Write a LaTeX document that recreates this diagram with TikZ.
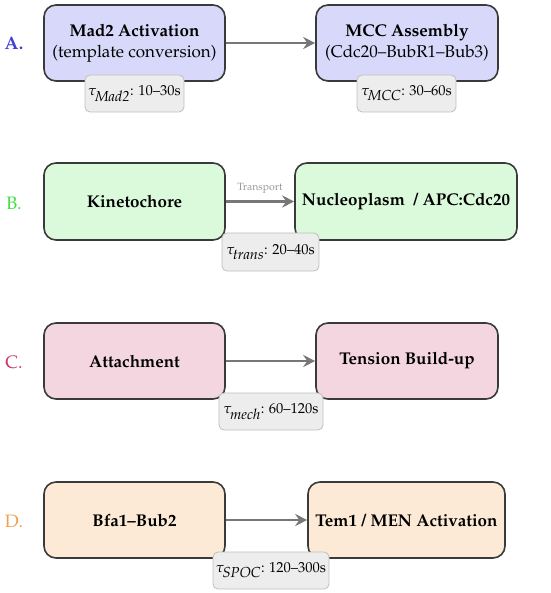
\documentclass[tikz,border=0pt]{standalone}
\usepackage[T1]{fontenc}
\usepackage{mathpazo}
\usetikzlibrary{arrows.meta}
\definecolor{fillA}{HTML}{D8D8FA}
\definecolor{fillB}{HTML}{DBFADB}
\definecolor{fillC}{HTML}{F4D6E0}
\definecolor{fillD}{HTML}{FDEAD6}
\definecolor{labA}{HTML}{4040D8}
\definecolor{labB}{HTML}{40E040}
\definecolor{labC}{HTML}{C83C6C}
\definecolor{labD}{HTML}{F0A050}
\definecolor{edgecol}{HTML}{3A3A3A}
\definecolor{arrcol}{HTML}{777777}
\tikzset{
  mainbox/.style={draw=edgecol, line width=1.6pt, rounded corners=12pt, align=center,
    minimum height=76pt, font=\fontsize{17}{21}\selectfont, inner sep=1pt},
  taubox/.style={draw=black!25, fill=black!7, line width=0.8pt, rounded corners=5pt,
    minimum height=37pt, font=\fontsize{14.5}{17}\selectfont, inner sep=1pt},
  flow/.style={draw=arrcol, line width=2.2pt, -{Stealth[length=12pt,width=12pt,inset=4pt]}},
  rowlab/.style={font=\fontsize{18}{21}\selectfont, anchor=center},
  small/.style={font=\fontsize{10.5}{12}\selectfont, text=black!40}
}
\begin{document}
\begin{tikzpicture}[x=1pt,y=-1pt]
\useasboundingbox (0,0) rectangle (550,593);
% Row A
\node[rowlab, text=labA] (la) at (14,43) {\textbf{A.}};
\node[mainbox, fill=fillA, minimum width=181pt] (a1) at (134.5,43) {\textbf{Mad2 Activation}\\(template conversion)};
\node[mainbox, fill=fillA, minimum width=182pt] (a2) at (407,43) {\textbf{MCC Assembly}\\(Cdc20--BubR1--Bub3)};
\draw[flow] (a1.east) -- (a2.west);
\node[taubox, minimum width=99pt] (ta1) at (134.5,93.5) {$\tau_{\textit{Mad2}}$: 10--30s};
\node[taubox, minimum width=99pt] (ta2) at (406.5,93.5) {$\tau_{\textit{MCC}}$: 30--60s};
% Row B
\node[rowlab, text=labB] (lb) at (14,203) {B.};
\node[mainbox, fill=fillB, minimum width=181pt, minimum height=77pt] (b1) at (134.5,201.5) {\textbf{Kinetochore}};
\node[mainbox, fill=fillB, minimum width=222pt, minimum height=77pt] (b2) at (406,201.5) {\textbf{Nucleoplasm~~/ APC:Cdc20}};
\draw[flow] (b1.east) -- node[small, above=4pt] (tr) {Transport} (b2.west);
\node[taubox, minimum width=97pt, minimum height=38pt] (tb) at (270.5,252) {$\tau_{\textit{trans}}$: 20--40s};
% Row C
\node[rowlab, text=labC] (lc) at (14,362) {C.};
\node[mainbox, fill=fillC, minimum width=181pt] (c1) at (134.5,361) {\textbf{Attachment}};
\node[mainbox, fill=fillC, minimum width=182pt] (c2) at (407,361) {\textbf{Tension Build-up}};
\draw[flow] (c1.east) -- (c2.west);
\node[taubox, minimum width=104pt] (tc) at (271,411.5) {$\tau_{\textit{mech}}$: 60--120s};
% Row D
\node[rowlab, text=labD] (ld) at (14,521) {D.};
\node[mainbox, fill=fillD, minimum width=181pt] (d1) at (134.5,520) {\textbf{Bfa1--Bub2}};
\node[mainbox, fill=fillD, minimum width=197pt] (d2) at (406.5,520) {\textbf{Tem1 / MEN Activation}};
\draw[flow] (d1.east) -- (d2.west);
\node[taubox, minimum width=116pt] (td) at (271,570.5) {$\tau_{\textit{SPOC}}$: 120--300s};
\end{tikzpicture}
\end{document}
